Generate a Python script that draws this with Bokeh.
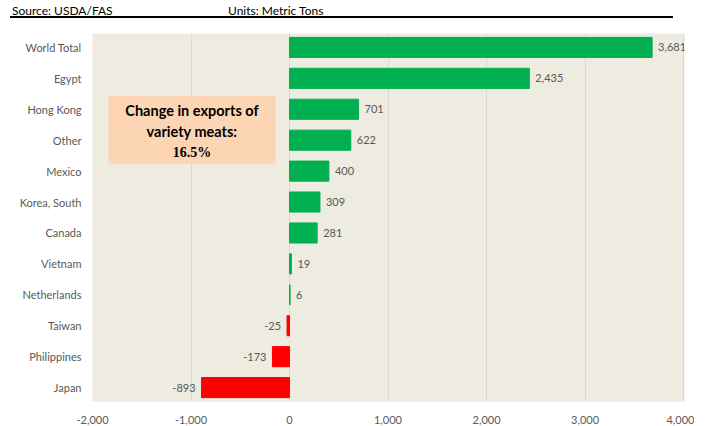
from bokeh.plotting import figure
from bokeh.models import Range1d, FixedTicker, Label, BoxAnnotation, ColumnDataSource, Div, NumeralTickFormatter, LabelSet
from bokeh.core.properties import value
from bokeh.layouts import column
from bokeh.embed import file_html
from bokeh.resources import INLINE

countries = ["World Total", "Egypt", "Hong Kong", "Other", "Mexico", "Korea, South",
             "Canada", "Vietnam", "Netherlands", "Taiwan", "Philippines", "Japan"]
changes = [3681, 2435, 701, 622, 400, 309, 281, 19, 6, -25, -173, -893]
x_ticks = [-2000, -1000, 0, 1000, 2000, 3000, 4000]

FONT = "Lato"
GREEN = "#00B050"
RED = "#FF0000"
TXT = "#595959"

n = len(countries)
ypos = [n - 1 - i for i in range(n)]
colors = [GREEN if v >= 0 else RED for v in changes]
labels = [f"{v:,}" for v in changes]
lab_x_off = [6 if v >= 0 else -6 for v in changes]
lab_align = ["left" if v >= 0 else "right" for v in changes]

src = ColumnDataSource(dict(y=ypos, v=changes, c=colors, t=labels, xo=lab_x_off, al=lab_align))

header = Div(
    text=(
        '<div style="position:relative;width:663px;height:16px;border-bottom:2px solid #000;'
        'font-family:Lato;font-size:12px;line-height:14px;color:#000;">'
        '<span style="position:absolute;left:2px;top:2px;white-space:nowrap">Source: USDA/FAS</span>'
        '<span style="position:absolute;left:218px;top:2px;white-space:nowrap">Units: Metric Tons</span>'
        '</div>'
    ),
    width=680, height=18, margin=(2, 0, 0, 10),
)

p = figure(width=694, height=406, output_backend="svg", toolbar_location=None,
           x_range=Range1d(-2000, 4010), y_range=Range1d(-0.45, n - 1 + 0.45),
           min_border_left=92, min_border_right=10, min_border_top=13, min_border_bottom=24)
p.background_fill_color = "#EEEBE1"
p.border_fill_color = "white"
p.outline_line_color = None

p.hbar(y="y", right="v", left=0, height=0.65, color="c", source=src)

p.add_layout(LabelSet(x="v", y="y", text="t", x_offset="xo", text_align="al", text_baseline="middle",
                      source=src, text_font=value(FONT), text_font_size=value("11px"), text_color=TXT))

# x axis
p.xaxis.ticker = FixedTicker(ticks=x_ticks)
p.xaxis.formatter = NumeralTickFormatter(format="0,0")
p.xaxis.axis_line_color = None
p.xaxis.major_tick_line_color = None
p.xaxis.minor_tick_line_color = None
p.xaxis.major_label_standoff = 8
p.xaxis.major_label_text_font = FONT
p.xaxis.major_label_text_font_size = "11px"
p.xaxis.major_label_text_color = TXT

# y axis
p.yaxis.ticker = FixedTicker(ticks=ypos)
p.yaxis.major_label_overrides = {y: c for y, c in zip(ypos, countries)}
p.yaxis.axis_line_color = None
p.yaxis.major_tick_line_color = None
p.yaxis.minor_tick_line_color = None
p.yaxis.major_label_standoff = 5
p.yaxis.major_label_text_font = FONT
p.yaxis.major_label_text_font_size = "11px"
p.yaxis.major_label_text_color = TXT

p.xgrid.ticker = FixedTicker(ticks=x_ticks)
p.xgrid.grid_line_color = "#D9D9D9"
p.ygrid.grid_line_color = None

# annotation box
p.add_layout(BoxAnnotation(left=-1838, right=-142, bottom=7.24, top=9.44,
                           fill_color="#FCD5B5", fill_alpha=1.0, line_color=None, level="underlay"))
p.add_layout(Label(x=-990, y=8.96, text="Change in exports of", text_align="center", text_baseline="middle",
                   text_font=FONT, text_font_style="bold", text_font_size="14.5px", text_color="black"))
p.add_layout(Label(x=-990, y=8.27, text="variety meats:", text_align="center", text_baseline="middle",
                   text_font=FONT, text_font_style="bold", text_font_size="14.5px", text_color="black"))
p.add_layout(Label(x=-990, y=7.59, text="16.5%", text_align="center", text_baseline="middle",
                   text_font="Liberation Serif", text_font_style="bold", text_font_size="14px", text_color="black"))

layout = column(header, p, spacing=0)
open("out.html", "w").write(file_html(layout, INLINE))
